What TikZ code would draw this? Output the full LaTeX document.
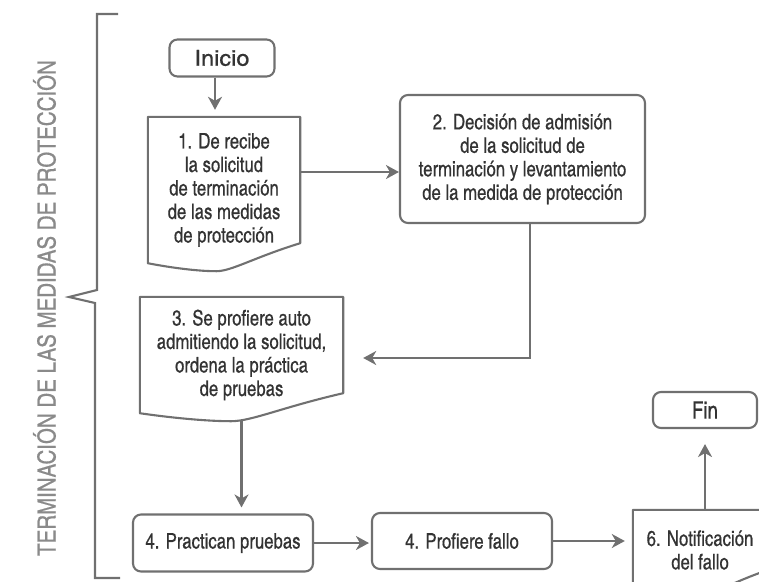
\documentclass[tikz,border=0pt]{standalone}
\usepackage{fontspec}
\setmainfont{texgyreheroscn}[Extension=.otf, UprightFont=*-regular, BoldFont=*-bold, FakeBold=0.5]
\newfontfamily\mytextfont{texgyreheroscn}[Extension=.otf, UprightFont=*-regular, FakeBold=0.5, FakeStretch=0.95]
\newfontfamily\mywidefont{texgyreheroscn}[Extension=.otf, UprightFont=*-regular, FakeBold=0.5, FakeStretch=1.3]
\usetikzlibrary{calc,arrows.meta}
\definecolor{linegray}{HTML}{707070}
\definecolor{txtgray}{HTML}{333333}
\definecolor{titlegray}{HTML}{8A8A8A}
\tikzset{
  line/.style={draw=linegray, line width=2.1pt},
  arr/.style={line, -{Stealth[length=13pt,width=14pt,inset=4pt]}},
  txt/.style={text=txtgray, align=center, inner sep=0pt, font=\mytextfont\fontsize{21.5}{23.5}\selectfont},
  rbox/.style={txt, line, rounded corners=8pt},
  docbox/.style={txt},
}
\newcommand\docshape[1]{%
  \draw[line, line join=round] (#1.north west) -- (#1.north east) -- ($(#1.south east)+(0,-20)$)
    .. controls ($(#1.south west)!0.7!(#1.south east)+(0,-6)$) and ($(#1.south west)!0.55!(#1.south east)+(0,8)$) .. ($(#1.south west)!0.45!(#1.south east)+(0,8)$)
    .. controls ($(#1.south west)!0.3!(#1.south east)+(0,8)$) and ($(#1.south west)!0.1!(#1.south east)+(0,3)$) .. (#1.south west) -- cycle;}
\begin{document}
\begin{tikzpicture}[x=1pt,y=-1pt]
\useasboundingbox (0,0) rectangle (759,581);
\clip (0,0) rectangle (759,581);
% title and bracket
\node[rotate=90, text=titlegray, inner sep=0pt, font=\fontsize{25}{25}\selectfont] (title) at (44.5,308) {TERMINACIÓN DE LAS MEDIDAS DE PROTECCIÓN};
\draw[line] (118,14) -- (97,14) -- (97,290) -- (69,297) -- (95,303) -- (95,578) -- (120,578);
% nodes
\node[rbox, minimum width=105pt, minimum height=37pt, font=\mywidefont\fontsize{22}{22}\selectfont] (inicio) at (222,58) {Inicio};
\node[docbox, minimum width=152pt, minimum height=146pt] (d1) at (224,190) {1. De recibe\\la solicitud\\de terminación\\de las medidas\\de protección};
\node[rbox, minimum width=245pt, minimum height=128pt] (n2) at (522.5,159) {2. Decisión de admisión\\de la solicitud de\\terminación y levantamiento\\de la medida de protección};
\node[docbox, minimum width=203pt, minimum height=116pt] (d3) at (241.5,355) {3. Se profiere auto\\admitiendo la solicitud,\\ordena la práctica\\de pruebas};
\node[rbox, minimum width=180pt, minimum height=57pt] (n4a) at (223,543) {4. Practican pruebas};
\node[rbox, minimum width=180pt, minimum height=56pt] (n4b) at (462,541) {4. Profiere fallo};
\node[docbox, minimum width=134pt, minimum height=80pt] (d6) at (700,550) {6. Notificación\\del fallo};
\node[rbox, minimum width=104pt, minimum height=36pt, font=\mytextfont\fontsize{24}{24}\selectfont] (fin) at (705,410) {Fin};
\docshape{d1}
\docshape{d3}
\docshape{d6}
% connectors
\draw[arr, shorten >=7pt] ([xshift=-7pt]inicio.south) -- ([xshift=-7pt]inicio.south |- d1.north);
\draw[arr] ([yshift=18pt]d1.east) -- ([yshift=18pt]d1.east -| n2.west);
\draw[arr, shorten >=20pt] ([xshift=7.5pt]n2.south) |- ([yshift=-3pt]d3.east);
\draw[arr, shorten >=14pt] ([yshift=-8pt]d3.south) -- ([yshift=-8pt]d3.south |- n4a.north);
\draw[arr, shorten >=2pt] (n4a.east) -- (n4a.east -| n4b.west);
\draw[arr, shorten >=8pt] (n4b.east) -- (n4b.east -| d6.west);
\draw[arr, shorten >=15pt] (d6.north -| fin.south) -- (fin.south);
\end{tikzpicture}
\end{document}
